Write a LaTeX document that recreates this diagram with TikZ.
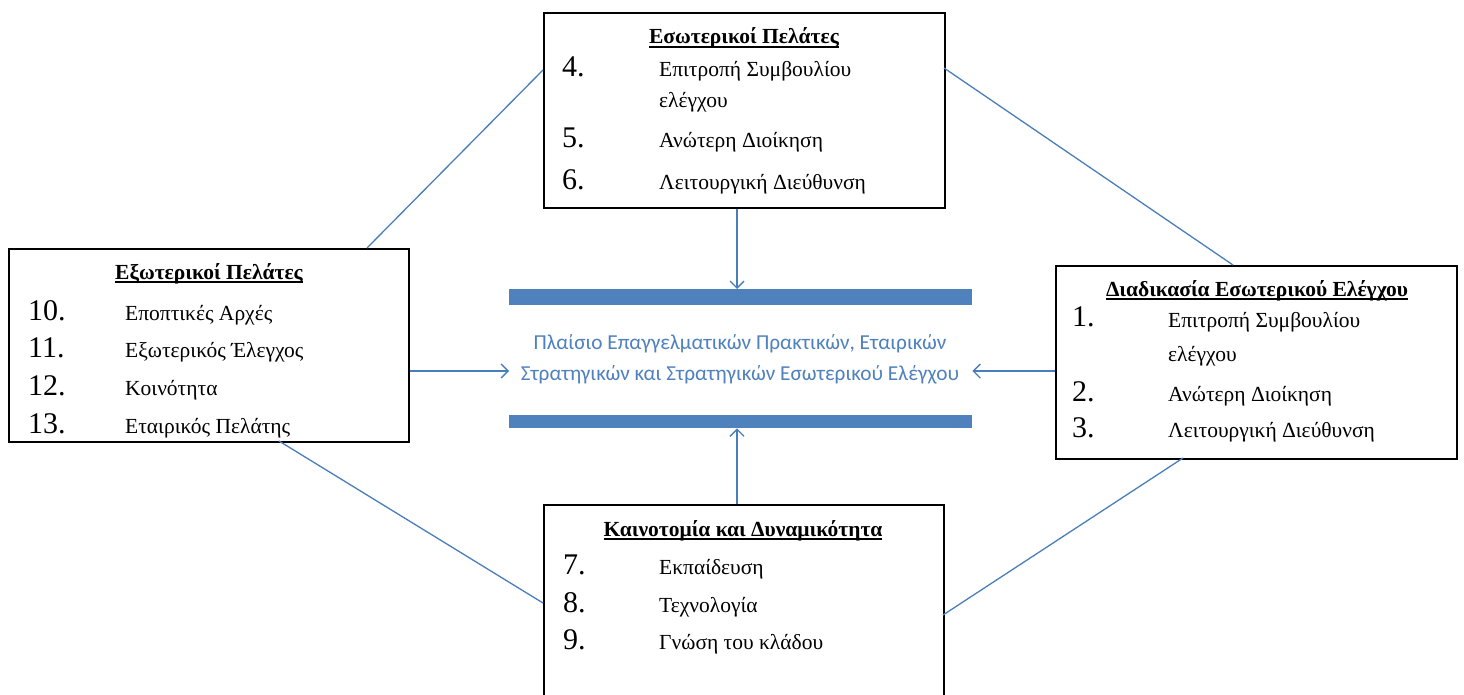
\documentclass[tikz,border=0pt]{standalone}
\usepackage{fontspec}
\setmainfont{Liberation Serif}
\newfontfamily\calibrifont{Carlito}
\usetikzlibrary{arrows.meta}
\definecolor{linkblue}{HTML}{4A7EBB}
\definecolor{barblue}{HTML}{4F81BD}
% bold header with a rule set just below the baseline
\newcommand\boxhead[1]{\setbox0\hbox{\bfseries #1}\rlap{\vrule width\wd0 height -2.4pt depth 3.9pt}\box0}
\tikzset{
  panel/.style={draw=black, line width=1.6pt, fill=white, rectangle, inner sep=0pt, anchor=north west},
  headtxt/.style={anchor=base, inner sep=0pt, font=\fontsize{21.5}{24}\selectfont},
  numtxt/.style={anchor=base west, inner sep=0pt, font=\fontsize{30}{34}\selectfont},
  itemtxt/.style={anchor=base west, inner sep=0pt, font=\fontsize{21.5}{26}\selectfont},
  link/.style={draw=linkblue, line width=1.3pt},
  flow/.style={draw=linkblue, line width=1.3pt, -{Straight Barb[length=7pt,width=14pt,line width=1.3pt]}},
  bar/.style={fill=barblue, draw=none, inner sep=0pt, anchor=north west},
}
\begin{document}
\begin{tikzpicture}[x=1pt, y=-1pt]
\clip (0,0) rectangle (1464,695);
\fill[white] (0,0) rectangle (1464,695);

% boxes
\node[panel, minimum width=401pt, minimum height=195pt] (top) at (543,12) {};
\node[panel, minimum width=400pt, minimum height=193pt] (left) at (8,248) {};
\node[panel, minimum width=401pt, minimum height=193pt] (right) at (1055,265) {};
\node[panel, minimum width=400pt, minimum height=240pt] (bottom) at (543,504) {};

% central bars and caption
\node[bar, minimum width=463pt, minimum height=16pt] (bartop) at (509,289) {};
\node[bar, minimum width=463pt, minimum height=13pt] (barbot) at (509,415) {};
\node[inner sep=0pt, text=barblue, align=center, font=\calibrifont\fontsize{21.3}{31}\selectfont] (core) at (740,359)
  {Πλαίσιο Επαγγελματικών Πρακτικών, Εταιρικών\\Στρατηγικών και Στρατηγικών Εσωτερικού Ελέγχου};

% diagonal links between the four boxes
\coordinate (tl) at (543,70);
\coordinate (tr) at (944,68);
\coordinate (lt) at (367,248);
\coordinate (lbt) at (279,441);
\coordinate (rt) at (1233,265);
\coordinate (rbt) at (1183,458);
\coordinate (bl) at (543,603);
\coordinate (br) at (943,615);
\draw[link] (lt) -- (tl);
\draw[link] (tr) -- (rt);
\draw[link] (lbt) -- (bl);
\draw[link] (rbt) -- (br);

% arrows into the central frame
\coordinate (ax) at (737,0);
\coordinate (mid) at (0,371);
\draw[flow] (top.south -| ax) -- (bartop.north -| ax);
\draw[flow] (bottom.north -| ax) -- (barbot.south -| ax);
\draw[flow] (left.east |- mid) -- (bartop.west |- mid);
\draw[flow] (right.west |- mid) -- (bartop.east |- mid);

% top box
\node[headtxt] (th) at (744,44) {\boxhead{Εσωτερικοί Πελάτες}};
\node[numtxt] (t4) at (562,77) {4.};
\node[itemtxt] (t4a) at (659,77) {Επιτροπή Συμβουλίου};
\node[itemtxt] (t4b) at (659,108) {ελέγχου};
\node[numtxt] (t5) at (562,148) {5.};
\node[itemtxt] (t5a) at (659,148) {Ανώτερη Διοίκηση};
\node[numtxt] (t6) at (562,190) {6.};
\node[itemtxt] (t6a) at (659,190) {Λειτουργική Διεύθυνση};

% left box
\node[headtxt] (lh) at (209,279) {\boxhead{Εξωτερικοί Πελάτες}};
\node[numtxt] (l10) at (28,320) {10.};
\node[itemtxt] (l10a) at (125,320) {Εποπτικές Αρχές};
\node[numtxt] (l11) at (28,357) {11.};
\node[itemtxt] (l11a) at (125,357) {Εξωτερικός Έλεγχος};
\node[numtxt] (l12) at (28,395) {12.};
\node[itemtxt] (l12a) at (125,395) {Κοινότητα};
\node[numtxt] (l13) at (28,433) {13.};
\node[itemtxt] (l13a) at (125,433) {Εταιρικός Πελάτης};

% right box
\node[headtxt] (rh) at (1257,296) {\boxhead{Διαδικασία Εσωτερικού Ελέγχου}};
\node[numtxt] (r1) at (1072,326) {1.};
\node[itemtxt] (r1a) at (1168,327) {Επιτροπή Συμβουλίου};
\node[itemtxt] (r1b) at (1168,361) {ελέγχου};
\node[numtxt] (r2) at (1072,401) {2.};
\node[itemtxt] (r2a) at (1168,401) {Ανώτερη Διοίκηση};
\node[numtxt] (r3) at (1072,437) {3.};
\node[itemtxt] (r3a) at (1168,437) {Λειτουργική Διεύθυνση};

% bottom box
\node[headtxt] (bh) at (743,536) {\boxhead{Καινοτομία και Δυναμικότητα}};
\node[numtxt] (b7) at (563,574) {7.};
\node[itemtxt] (b7a) at (659,574) {Εκπαίδευση};
\node[numtxt] (b8) at (563,612) {8.};
\node[itemtxt] (b8a) at (659,612) {Τεχνολογία};
\node[numtxt] (b9) at (563,649) {9.};
\node[itemtxt] (b9a) at (659,649) {Γνώση του κλάδου};
\end{tikzpicture}
\end{document}
